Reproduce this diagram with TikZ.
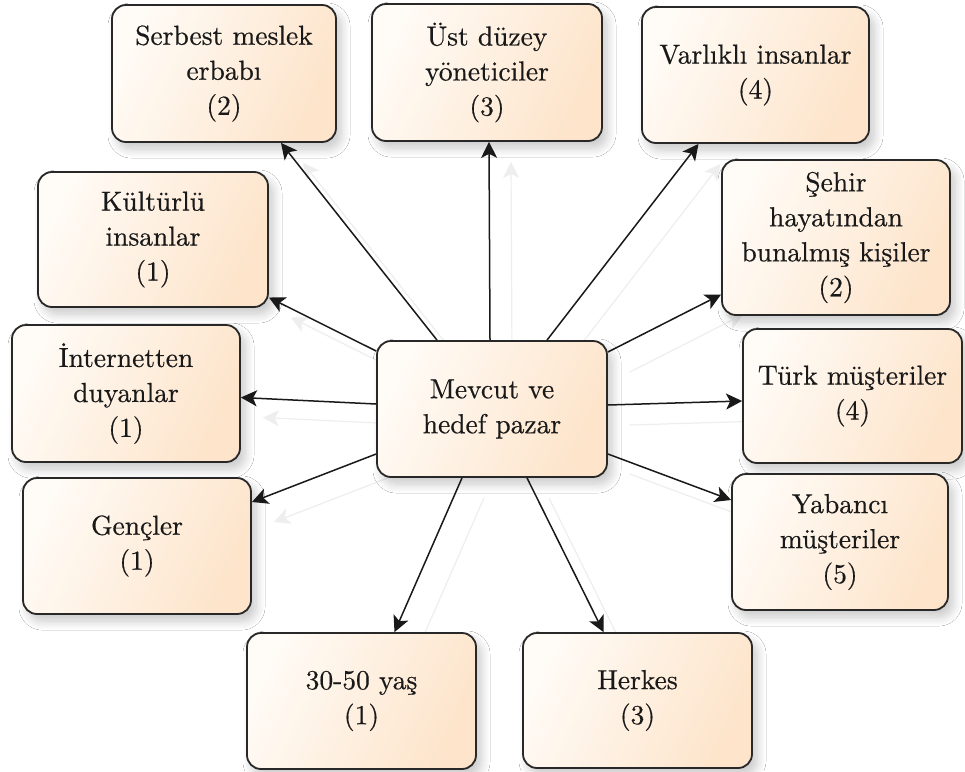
\documentclass[tikz,border=0pt]{standalone}
\usepackage{fontspec}
\newfontfamily\boxfont{lmroman10-regular.otf}[FakeBold=0.5]
\usetikzlibrary{arrows.meta,shadows.blur,backgrounds}

\definecolor{boxlight}{RGB}{255,251,246}
\definecolor{boxdark}{RGB}{253,228,202}
\definecolor{edge}{RGB}{40,40,40}
\definecolor{ink}{RGB}{25,25,25}
\definecolor{ghost}{RGB}{238,238,238}

% connectors: each drawn once as a faint reflection, once in ink
\newcommand\linkpair[2]{%
  \begin{pgfonlayer}{background}\draw[ghostlink] #1 -- #2;\end{pgfonlayer}%
  \draw[link] #1 -- #2;}

\begin{document}
\begin{tikzpicture}[x=1pt,y=-1pt,
  box/.style={draw=edge, line width=1.8pt, rounded corners=14pt,
    top color=boxlight, bottom color=boxdark, shading angle=65,
    align=center, text=ink, inner sep=0pt,
    font=\boxfont\fontsize{27.5}{35}\selectfont,
    blur shadow={shadow xshift=5pt, shadow yshift=-7pt,
      shadow blur radius=9pt, shadow opacity=22, shadow blur steps=10}},
  link/.style={draw=ink, line width=1.5pt,
    -{Stealth[length=16pt,width=16pt,inset=4pt]}},
  ghostlink/.style={draw=ghost, line width=1.2pt,
    -{Stealth[length=16pt,width=16pt,inset=4pt]},
    transform canvas={shift={(22,20)}}},
]
\useasboundingbox (0,0) rectangle (965,771);

% central box
\node[box, minimum width=230pt, minimum height=136pt] (c) at (492,409)
  {Mevcut ve\\hedef pazar};

% surrounding segments
\node[box, minimum width=224pt, minimum height=137pt] (ser) at (224,73.5)
  {Serbest meslek\\erbabı\\(2)};
\node[box, minimum width=230pt, minimum height=137pt] (ust) at (487,72.5)
  {Üst düzey\\yöneticiler\\(3)};
\node[box, minimum width=227pt, minimum height=136pt] (var) at (755.5,75)
  {Varlıklı insanlar\\(4)};
\node[box, minimum width=228pt, minimum height=155pt] (seh) at (836,237.5)
  {Şehir\\hayatından\\bunalmış kişiler\\(2)};
\node[box, minimum width=219pt, minimum height=134pt] (turk) at (852.5,396)
  {Türk müşteriler\\(4)};
\node[box, minimum width=216pt, minimum height=136pt] (yab) at (840,542)
  {Yabancı\\müşteriler\\(5)};
\node[box, minimum width=229pt, minimum height=135pt] (herk) at (637.5,700.5)
  {Herkes\\(3)};
\node[box, minimum width=229pt, minimum height=136pt] (yas) at (361.5,701)
  {30-50 yaş\\(1)};
\node[box, minimum width=228pt, minimum height=136pt] (genc) at (137,546)
  {Gençler\\(1)};
\node[box, minimum width=228pt, minimum height=137pt] (int) at (126,393.5)
  {İnternetten\\duyanlar\\(1)};
\node[box, minimum width=230pt, minimum height=135pt] (kul) at (153,239.5)
  {Kültürlü\\insanlar\\(1)};

\begin{pgfonlayer}{background}
  \fill[white] (0,0) rectangle (965,771);
\end{pgfonlayer}

\linkpair{([xshift=-55pt]c.north)}{([xshift=57pt]ser.south)}
\linkpair{([xshift=-2pt]c.north)}{([xshift=2pt]ust.south)}
\linkpair{([xshift=55pt]c.north)}{([xshift=-57pt]var.south)}
\linkpair{([yshift=57pt]c.east)}{([yshift=-57pt]seh.west)}
\linkpair{([yshift=4pt]c.east)}{([yshift=-5pt]turk.west)}
\linkpair{([yshift=-45pt]c.east)}{([yshift=42pt]yab.west)}
\linkpair{([xshift=35pt]c.south)}{([xshift=-34pt]herk.north)}
\linkpair{([xshift=-30pt]c.south)}{([xshift=33pt]yas.north)}
\linkpair{([yshift=-45pt]c.west)}{([yshift=44pt]genc.east)}
\linkpair{([yshift=5pt]c.west)}{([yshift=-4pt]int.east)}
\linkpair{([yshift=58pt]c.west)}{([yshift=-58pt]kul.east)}
\end{tikzpicture}
\end{document}
